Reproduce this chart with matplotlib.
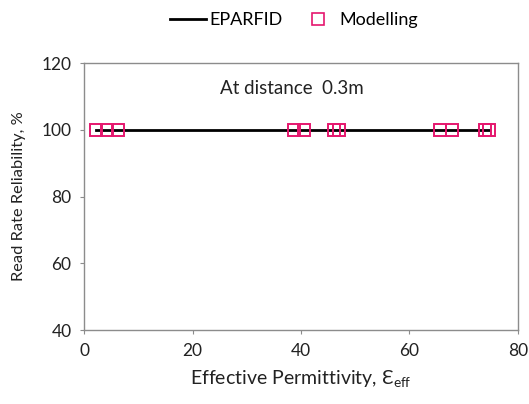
import matplotlib
matplotlib.use("Agg")
import matplotlib.pyplot as plt
from matplotlib.lines import Line2D

plt.rcParams['font.family'] = ['Lato', 'DejaVu Sans']

# ====== Данные ======
eps_eff = [2.2, 4.2, 6.3, 38.8, 40.6, 46.1, 47.1, 65.7, 67.9, 74.0, 74.7]
reliability_model = [100] * len(eps_eff)
eparfid_x = [2.2, 74.7]
eparfid_y = [100, 100]

pink = '#E5176E'
grey = '#8c8c8c'

fig = plt.figure(figsize=(5.29, 4.04), dpi=100)
ax = fig.add_axes([0.159, 0.183, 0.820, 0.661])

ax.plot(eparfid_x, eparfid_y, color='black', lw=2.0, zorder=2)
ax.plot(eps_eff, reliability_model, ls='none', marker='s', ms=8,
        mfc='none', mec=pink, mew=1.4, zorder=3)

ax.set_xlim(0, 80)
ax.set_ylim(40, 120)
ax.set_xticks([0, 20, 40, 60, 80])
ax.set_yticks([40, 60, 80, 100, 120])
ax.tick_params(labelsize=12.5, length=3, color=grey, labelcolor='#222222', pad=6)
for s in ax.spines.values():
    s.set_color(grey)
    s.set_linewidth(1.0)

ax.set_xlabel('Effective Permittivity, Ɛ$_{\\mathregular{eff}}$', fontsize=14,
              color='#222222', labelpad=7)
ax.set_ylabel('Read Rate Reliability, %', fontsize=11.8, color='#222222', labelpad=11)

ax.text(0.478, 0.905, 'At distance  0.3m', transform=ax.transAxes,
        ha='center', va='center', fontsize=13.5, color='#222222')

handles = [Line2D([], [], color='black', lw=2.0),
           Line2D([], [], ls='none', marker='s', ms=8, mfc='none', mec=pink, mew=1.2)]
fig.legend(handles, ['EPARFID', 'Modelling'], loc='upper center',
           bbox_to_anchor=(0.556, 1.01), ncol=2, frameon=False, fontsize=13,
           handlelength=2.0, columnspacing=0.95, handletextpad=0.2)

fig.savefig('out.png', dpi=100)
